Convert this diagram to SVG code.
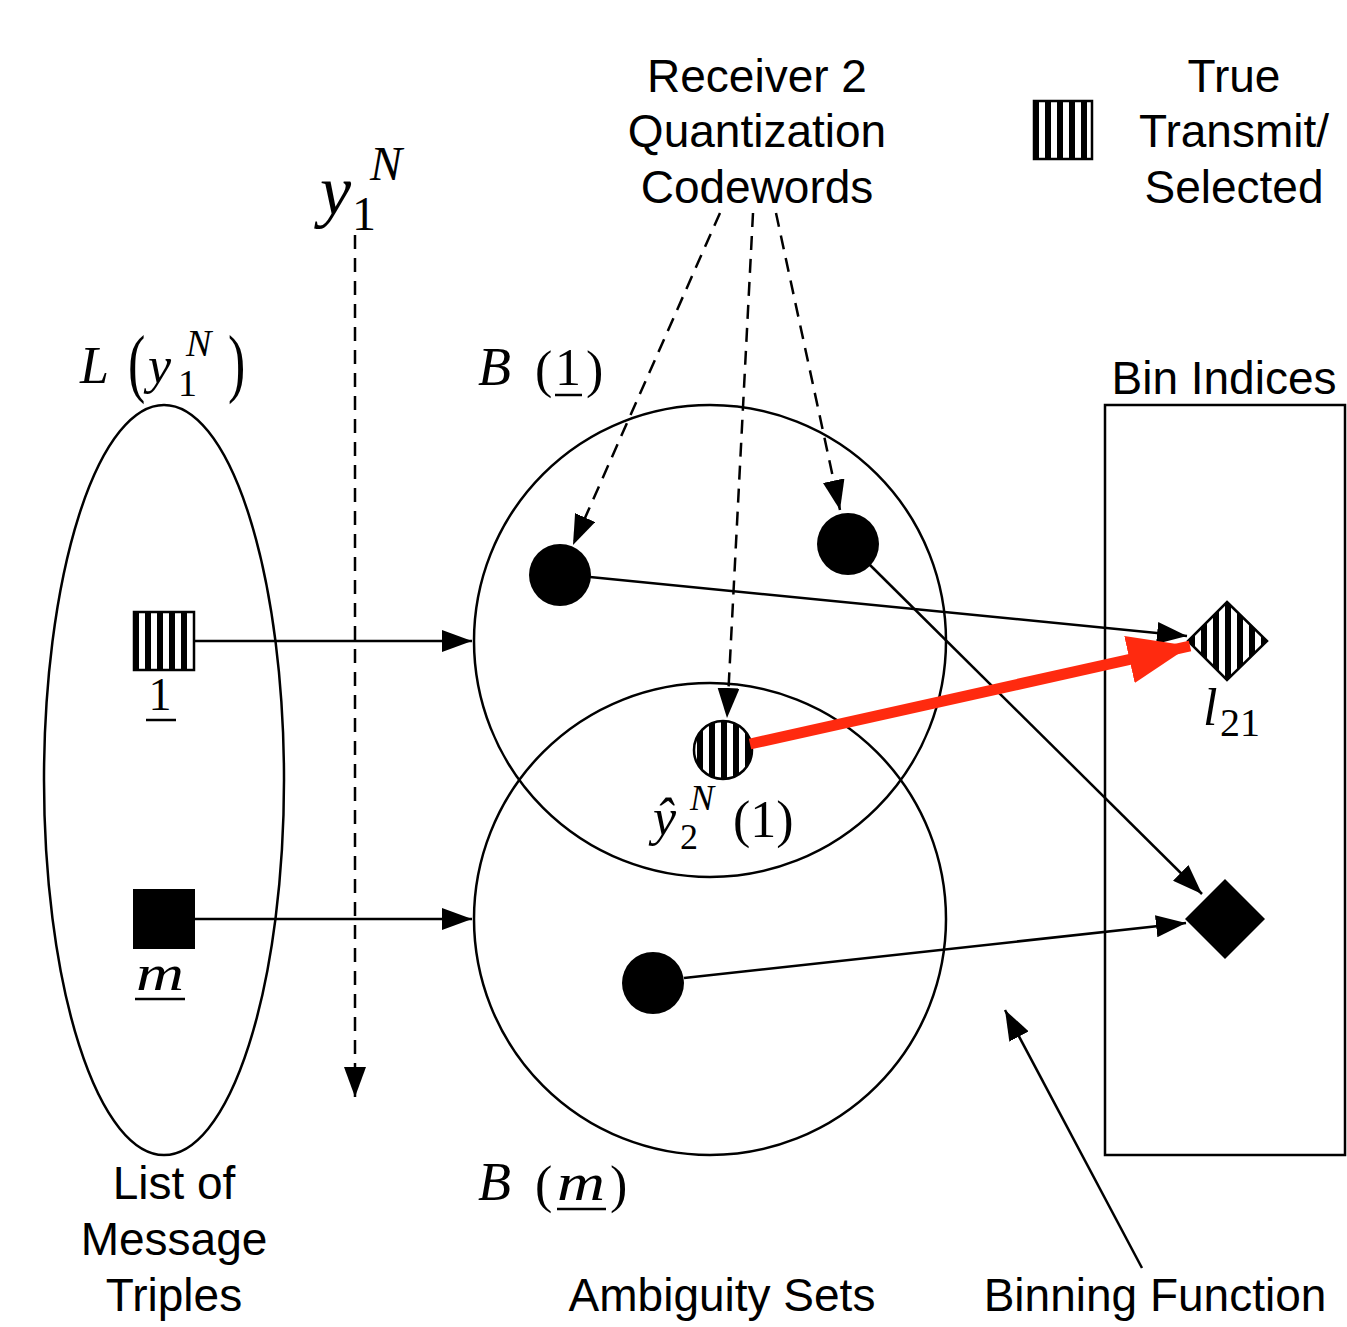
<svg xmlns="http://www.w3.org/2000/svg" width="1347" height="1327" viewBox="0 0 1347 1327">
<style>
.t{font-family:"Liberation Sans",Arial,sans-serif;font-size:46px;fill:#000;text-anchor:middle}
.m{font-family:"Liberation Serif","Times New Roman",serif;fill:#000}
.i{font-style:italic}
.ln{stroke:#000;stroke-width:2.5;fill:none}
.ds{stroke:#000;stroke-width:2.5;fill:none;stroke-dasharray:14 9}
.sh{stroke:#000;stroke-width:2.5;fill:none}
</style>
<defs>
<pattern id="stripes" patternUnits="userSpaceOnUse" width="12" height="12" x="1">
<rect width="12" height="12" fill="#fff"/>
<rect width="6" height="12" fill="#000"/>
</pattern>
<marker id="ah" viewBox="0 0 30 22" refX="30" refY="11" markerWidth="30" markerHeight="22" markerUnits="userSpaceOnUse" orient="auto">
<path d="M0,0 L30,11 L0,22 Z" fill="#000"/>
</marker>
<marker id="ahr" viewBox="0 0 62 48" refX="62" refY="24" markerWidth="62" markerHeight="48" markerUnits="userSpaceOnUse" orient="auto">
<path d="M0,0 L62,24 L0,48 Z" fill="#ff2a0f"/>
</marker>
</defs>

<g id="list">
<ellipse cx="164" cy="780" rx="120" ry="375" class="sh"/>
<text class="m i" x="80" y="383" font-size="52">L</text>
<text class="m" x="0" y="0" font-size="52" transform="translate(128,388) scale(1,1.45)">(</text>
<text class="m i" x="148" y="383" font-size="52">y</text>
<text class="m" x="178" y="396" font-size="38">1</text>
<text class="m i" x="186" y="356" font-size="38">N</text>
<text class="m" x="0" y="0" font-size="52" transform="translate(228,388) scale(1,1.45)">)</text>
<text class="t" x="174" y="1199">List of</text>
<text class="t" x="174" y="1255">Message</text>
<text class="t" x="174" y="1311">Triples</text>
</g>

<g id="msg1">
<rect x="134" y="612" width="60" height="58" fill="url(#stripes)" stroke="#000" stroke-width="2.5"/>
<text class="m" x="160" y="710" font-size="46" text-anchor="middle">1</text>
<line x1="146" y1="720" x2="176" y2="720" stroke="#000" stroke-width="2.5"/>
</g>

<g id="msgm">
<rect x="133" y="889" width="62" height="60" fill="#000"/>
<text class="m i" x="136" y="990" font-size="50" textLength="48" lengthAdjust="spacingAndGlyphs">m</text>
<line x1="135" y1="999" x2="185" y2="999" stroke="#000" stroke-width="2.5"/>
</g>

<g id="y1N">
<text class="m i" x="320" y="214" font-size="70">y</text>
<text class="m" x="352" y="230" font-size="48">1</text>
<text class="m i" x="370" y="180" font-size="48">N</text>
</g>

<g id="B1">
<circle cx="710" cy="641" r="236" class="sh"/>
<text class="m i" x="478" y="385" font-size="54">B</text>
<text class="m" x="535" y="387" font-size="52">(</text>
<text class="m" x="555" y="385" font-size="52">1</text>
<line x1="555" y1="395" x2="582" y2="395" stroke="#000" stroke-width="2.5"/>
<text class="m" x="586" y="387" font-size="52">)</text>
</g>

<g id="Bm">
<circle cx="710" cy="919" r="236" class="sh"/>
<text class="m i" x="478" y="1200" font-size="54">B</text>
<text class="m" x="535" y="1202" font-size="52">(</text>
<text class="m i" x="557" y="1200" font-size="52" textLength="48" lengthAdjust="spacingAndGlyphs">m</text>
<line x1="557" y1="1209" x2="606" y2="1209" stroke="#000" stroke-width="2.5"/>
<text class="m" x="610" y="1202" font-size="52">)</text>
<text class="t" x="722" y="1311">Ambiguity Sets</text>
</g>

<g id="dots">
<circle cx="560" cy="575" r="31" fill="#000"/>
<circle cx="848" cy="544" r="31" fill="#000"/>
<circle cx="653" cy="983" r="31" fill="#000"/>
<circle cx="723" cy="750" r="29" fill="url(#stripes)" stroke="#000" stroke-width="2.5"/>
<text class="m i" x="653" y="835" font-size="52">ŷ</text>
<text class="m" x="680" y="849" font-size="36">2</text>
<text class="m i" x="690" y="810" font-size="36">N</text>
<text class="m" x="733" y="837" font-size="52">(1)</text>
</g>

<g id="bins">
<rect x="1105" y="405" width="240" height="750" class="sh"/>
<text class="t" x="1224" y="394">Bin Indices</text>
<polygon points="1227,602 1267,641 1227,680 1188,641" fill="url(#stripes)" stroke="#000" stroke-width="2.5"/>
<text class="m i" x="1203" y="725" font-size="52">l</text>
<text class="m" x="1220" y="736" font-size="40">21</text>
<polygon points="1225,879 1265,919 1225,959 1185,919" fill="#000"/>
<text class="t" x="1155" y="1311">Binning Function</text>
</g>

<g id="legend">
<rect x="1034" y="101" width="58" height="58" fill="url(#stripes)" stroke="#000" stroke-width="2.5"/>
<text class="t" x="1234" y="92">True</text>
<text class="t" x="1234" y="147">Transmit/</text>
<text class="t" x="1234" y="203">Selected</text>
</g>

<g id="receiver">
<text class="t" x="757" y="92">Receiver 2</text>
<text class="t" x="757" y="147">Quantization</text>
<text class="t" x="757" y="203">Codewords</text>
</g>

<g id="connectors">
<line x1="195" y1="641" x2="472" y2="641" class="ln" marker-end="url(#ah)"/>
<line x1="195" y1="919" x2="472" y2="919" class="ln" marker-end="url(#ah)"/>
<line x1="355" y1="235" x2="355" y2="1097" class="ds" marker-end="url(#ah)"/>
<line x1="720" y1="213" x2="573" y2="545" class="ds" marker-end="url(#ah)"/>
<line x1="753" y1="213" x2="727" y2="718" class="ds" marker-end="url(#ah)"/>
<line x1="776" y1="213" x2="840" y2="510" class="ds" marker-end="url(#ah)"/>
<line x1="590" y1="577" x2="1187" y2="636" class="ln" marker-end="url(#ah)"/>
<line x1="870" y1="565" x2="1202" y2="894" class="ln" marker-end="url(#ah)"/>
<line x1="684" y1="978" x2="1186" y2="923" class="ln" marker-end="url(#ah)"/>
<line x1="750" y1="744" x2="1190" y2="646" stroke="#ff2a0f" stroke-width="11" marker-end="url(#ahr)"/>
<line x1="1142" y1="1268" x2="1005" y2="1010" class="ln" marker-end="url(#ah)"/>
</g>
</svg>
